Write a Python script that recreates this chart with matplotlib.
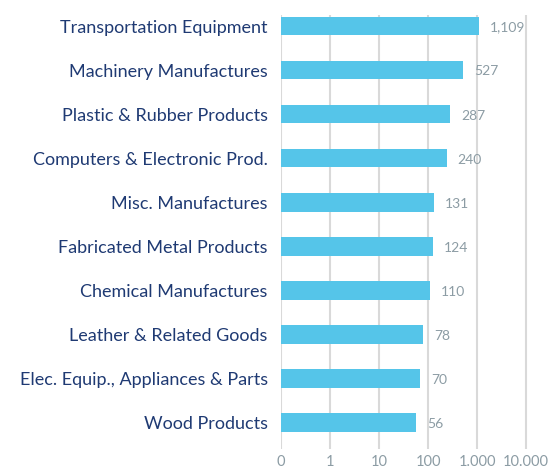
import matplotlib.pyplot as plt

plt.rcParams['font.family'] = ['Lato', 'DejaVu Sans']

# Data
categories = ['Transportation Equipment', 'Machinery Manufactures', 'Plastic & Rubber Products',
              'Computers & Electronic Prod.', 'Misc. Manufactures', 'Fabricated Metal Products',
              'Chemical Manufactures', 'Leather & Related Goods',
              'Elec. Equip., Appliances & Parts', 'Wood Products']
values = [1109, 527, 287, 240, 131, 124, 110, 78, 70, 56]
value_labels = ['1,109', '527', '287', '240', '131', '124', '110', '78', '70', '56']
xticks = [0, 1, 10, 100, 1000, 10000]
xtick_labels = ['0', '1', '10', '100', '1.000', '10.000']

bar_color = '#55c5e9'
label_color = '#1f3a73'
gray = '#8c9ca4'

fig = plt.figure(figsize=(5.58, 4.68), dpi=100)
ax = fig.add_axes([281 / 558, 1 - 449 / 468, (545 - 281) / 558, (449 - 15) / 468])

y = list(range(len(categories)))
ax.barh(y, values, height=0.42, color=bar_color, zorder=3)

ax.set_xscale('symlog', linthresh=1, linscale=0.9)
ax.set_xlim(0, 24400)
ax.set_ylim(9.6, -0.25)

ax.set_xticks(xticks)
ax.set_xticklabels(xtick_labels, fontsize=10.5, color=gray)
ax.set_yticks(y)
ax.set_yticklabels(categories, fontsize=13, color=label_color, va='center_baseline')
ax.tick_params(axis='both', length=0)
ax.tick_params(axis='y', pad=9.5)
ax.tick_params(axis='x', pad=4)

ax.grid(axis='x', color='#d9d9d9', linewidth=1.5, zorder=0)
for s in ax.spines.values():
    s.set_visible(False)

for yi, v, lab in zip(y, values, value_labels):
    ax.annotate(lab, (v, yi), xytext=(8, -1), textcoords='offset points',
                va='center', ha='left', fontsize=10, color=gray)

fig.savefig('out.png', dpi=100)
